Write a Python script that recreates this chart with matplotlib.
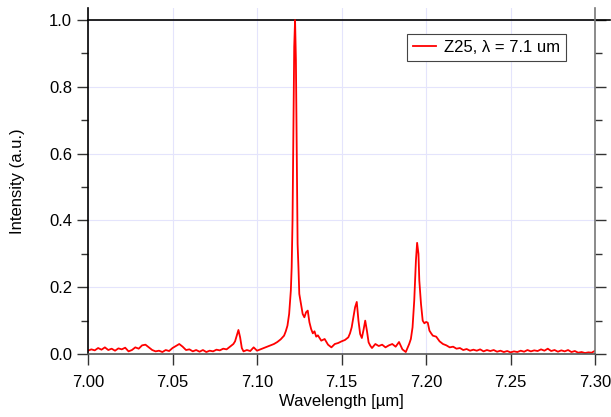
import matplotlib
matplotlib.use("Agg")
import matplotlib.pyplot as plt
from matplotlib.ticker import MultipleLocator

plt.rcParams['font.family'] = ['Liberation Sans', 'DejaVu Sans']

# spectrum (wavelength in um, normalised intensity)
wavelength = [
    7.000, 7.002, 7.004, 7.006, 7.008, 7.010, 7.012, 7.014, 7.016, 7.018,
    7.020, 7.022, 7.024, 7.026, 7.028, 7.030, 7.032, 7.034, 7.036, 7.038,
    7.040, 7.042, 7.044, 7.046, 7.048, 7.050, 7.052, 7.054, 7.056, 7.058,
    7.060, 7.062, 7.064, 7.066, 7.068, 7.070, 7.072, 7.074, 7.076, 7.078,
    7.080, 7.082, 7.084, 7.086, 7.087, 7.088, 7.089, 7.090, 7.091, 7.092,
    7.094, 7.096, 7.098, 7.100, 7.102, 7.104, 7.106, 7.108, 7.110, 7.112,
    7.114, 7.116, 7.117, 7.118, 7.119, 7.120, 7.1205, 7.121, 7.1215, 7.122,
    7.1225, 7.123, 7.1235, 7.124, 7.1245, 7.125, 7.126, 7.127, 7.128, 7.129,
    7.130, 7.131, 7.132, 7.133, 7.134, 7.135, 7.136, 7.138, 7.140, 7.142,
    7.144, 7.146, 7.148, 7.150, 7.152, 7.154, 7.155, 7.156, 7.157, 7.158,
    7.159, 7.160, 7.161, 7.162, 7.163, 7.164, 7.165, 7.166, 7.167, 7.168,
    7.170, 7.172, 7.174, 7.176, 7.178, 7.180, 7.182, 7.184, 7.186, 7.188,
    7.190, 7.191, 7.192, 7.193, 7.194, 7.1947, 7.1955, 7.196, 7.197, 7.198,
    7.199, 7.200, 7.201, 7.202, 7.203, 7.204, 7.206, 7.208, 7.210, 7.212,
    7.214, 7.216, 7.218, 7.220, 7.222, 7.224, 7.226, 7.228, 7.230, 7.232,
    7.234, 7.236, 7.238, 7.240, 7.242, 7.244, 7.246, 7.248, 7.250, 7.252,
    7.254, 7.256, 7.258, 7.260, 7.262, 7.264, 7.266, 7.268, 7.270, 7.272,
    7.274, 7.276, 7.278, 7.280, 7.282, 7.284, 7.286, 7.288, 7.290, 7.292,
    7.294, 7.296, 7.298, 7.300,
]
intensity = [
    0.010, 0.014, 0.011, 0.018, 0.013, 0.020, 0.012, 0.016, 0.010, 0.017,
    0.014, 0.019, 0.008, 0.012, 0.020, 0.016, 0.026, 0.028, 0.020, 0.012,
    0.008, 0.010, 0.006, 0.012, 0.009, 0.018, 0.024, 0.030, 0.022, 0.012,
    0.014, 0.008, 0.012, 0.007, 0.012, 0.006, 0.010, 0.008, 0.013, 0.011,
    0.016, 0.014, 0.022, 0.030, 0.038, 0.055, 0.072, 0.050, 0.018, 0.008,
    0.012, 0.009, 0.020, 0.010, 0.014, 0.018, 0.022, 0.026, 0.030, 0.036,
    0.044, 0.055, 0.068, 0.085, 0.120, 0.190, 0.260, 0.400, 0.650, 0.920,
    1.000, 0.880, 0.600, 0.330, 0.260, 0.180, 0.150, 0.120, 0.110, 0.125,
    0.130, 0.095, 0.075, 0.062, 0.068, 0.052, 0.056, 0.040, 0.045, 0.028,
    0.020, 0.030, 0.033, 0.038, 0.042, 0.050, 0.062, 0.080, 0.110, 0.140,
    0.156, 0.100, 0.060, 0.048, 0.072, 0.100, 0.070, 0.035, 0.025, 0.018,
    0.030, 0.024, 0.028, 0.020, 0.026, 0.030, 0.022, 0.036, 0.014, 0.006,
    0.030, 0.045, 0.080, 0.160, 0.280, 0.333, 0.300, 0.220, 0.150, 0.100,
    0.092, 0.096, 0.094, 0.070, 0.062, 0.055, 0.052, 0.038, 0.030, 0.026,
    0.020, 0.022, 0.016, 0.018, 0.012, 0.015, 0.010, 0.013, 0.010, 0.014,
    0.008, 0.012, 0.009, 0.012, 0.007, 0.010, 0.006, 0.009, 0.005, 0.008,
    0.006, 0.010, 0.007, 0.012, 0.008, 0.011, 0.009, 0.014, 0.010, 0.016,
    0.009, 0.012, 0.007, 0.011, 0.008, 0.012, 0.006, 0.009, 0.004, 0.006,
    0.003, 0.005, 0.004, 0.010,
]
legend_label = 'Z25, λ = 7.1 um'

fig = plt.figure(figsize=(6.11, 4.17), dpi=100)
ax = fig.add_axes([0.144, 0.151, 0.830, 0.829])

ax.plot(wavelength, intensity, color='red', lw=1.3, label=legend_label)

ax.set_xlim(7.0, 7.30)
ax.set_ylim(0, 1.035)
ax.xaxis.set_major_locator(MultipleLocator(0.05))
ax.yaxis.set_minor_locator(MultipleLocator(0.1))
ax.set_yticks([0, 0.2, 0.4, 0.6, 0.8, 1.0])
ax.xaxis.set_major_formatter(plt.FormatStrFormatter('%.2f'))
ax.yaxis.set_major_formatter(plt.FormatStrFormatter('%.1f'))

ax.grid(True, which='major', color='#e4e4fc', lw=0.8)
ax.set_axisbelow(True)
# black line at full scale, running a little past the right axis
ax.axhline(1.0, xmin=0, xmax=1.03, color='black', lw=1.2, zorder=1,
           clip_on=False)

ax.spines['top'].set_visible(False)
ax.spines['left'].set_color('black')
ax.spines['bottom'].set_color('#555555')
ax.spines['right'].set_color('#777777')
for s in ['left', 'bottom', 'right']:
    ax.spines[s].set_linewidth(1.2)

ax.tick_params(axis='both', which='major', direction='out', length=8,
               width=1.0, labelsize=12, color='#333333')
ax.tick_params(axis='y', which='minor', direction='out', length=5, width=1.0,
               color='#333333')
ax.tick_params(axis='y', which='both', right=True, labelright=False)
ax.tick_params(axis='x', which='major', pad=7)

ax.set_xlabel('Wavelength [µm]', fontsize=12, labelpad=3)
ax.set_ylabel('Intensity (a.u.)', fontsize=12, labelpad=17)

leg = ax.legend(loc='upper right', bbox_to_anchor=(0.943, 0.926),
                borderaxespad=0, fontsize=12, fancybox=False, framealpha=1,
                edgecolor='#444444', handlelength=1.4, handletextpad=0.5,
                borderpad=0.35)
leg.get_frame().set_linewidth(0.8)

fig.savefig('out.png', dpi=100)
